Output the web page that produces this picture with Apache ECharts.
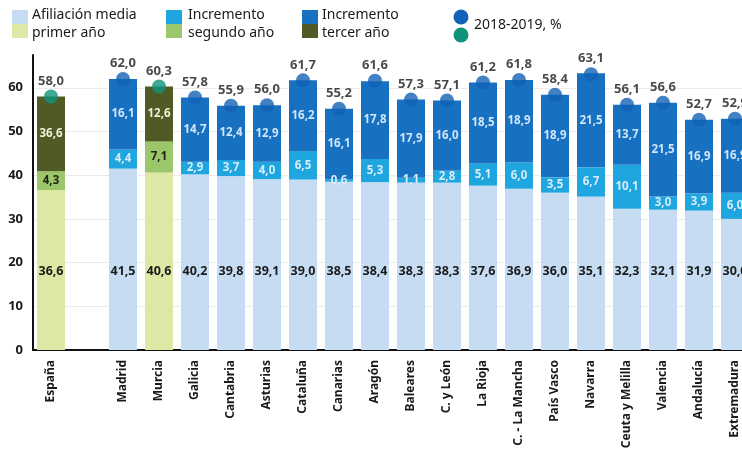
<!DOCTYPE html>
<html><head><meta charset="utf-8">
<script src="https://cdn.jsdelivr.net/npm/echarts@6/dist/echarts.min.js"></script>
<style>html,body{margin:0;padding:0;background:#fff;overflow:hidden;width:742px;height:452px}#c{width:770px;height:452px}</style>
</head><body><div id="c"></div><script>
const categories = ['España','','Madrid','Murcia','Galicia','Cantabria','Asturias','Cataluña','Canarias','Aragón','Baleares','C. y León','La Rioja','C. - La Mancha','País Vasco','Navarra','Ceuta y Melilla','Valencia','Andalucía','Extremadura'];
const afiliacion = [36.6,null,41.5,40.6,40.2,39.8,39.1,39.0,38.5,38.4,38.3,38.3,37.6,36.9,36.0,35.1,32.3,32.1,31.9,30.0];
const incremento2 = [4.3,null,4.4,7.1,2.9,3.7,4.0,6.5,0.6,5.3,1.1,2.8,5.1,6.0,3.5,6.7,10.1,3.0,3.9,6.0];
const incremento3 = [17.1,null,16.1,12.6,14.7,12.4,12.9,16.2,16.1,17.8,17.9,16.0,18.5,18.9,18.9,21.5,13.7,21.5,16.9,16.9];
const incremento3Labels = ['36,6','','16,1','12,6','14,7','12,4','12,9','16,2','16,1','17,8','17,9','16,0','18,5','18,9','18,9','21,5','13,7','21,5','16,9','16,9'];
const totals = [58.0,null,62.0,60.3,57.8,55.9,56.0,61.7,55.2,61.6,57.3,57.1,61.2,61.8,58.4,63.1,56.1,56.6,52.7,52.9];
const highlighted = ['España','Murcia'];
const yTicks = [0,10,20,30,40,50,60];

const FONT = 'Noto Sans';
const C = {
  base:'#c6dcf2', second:'#1fa6de', third:'#1770c0', dot:'#1262b5',
  gBase:'#dfe7a4', gSecond:'#9cc66a', gThird:'#4f5a24', gDot:'#10937a'
};
const fmt = v => v.toFixed(1).replace('.', ',');
const isG = i => highlighted.includes(categories[i]);

function items(arr, key, gKey, labelFn){
  return arr.map((v,i)=>{
    if (v==null) return {value:'-'};
    const g = isG(i);
    const o = {value:v, itemStyle:{color: g ? C[gKey] : C[key]}};
    if (labelFn) o.label = labelFn(i,g,v);
    return o;
  });
}

const baseData = items(afiliacion,'base','gBase');
const secondData = items(incremento2,'second','gSecond',(i,g)=>({color: g ? '#1e2410' : '#d6ecfb'}));
const thirdData = items(incremento3,'third','gThird',(i,g)=>({color: g ? '#eef0d8' : '#cfe6fa', formatter: incremento3Labels[i]}));
const dotData = totals.map((v,i)=> v==null ? {value:'-'} : {value:v, itemStyle:{color: isG(i)?C.gDot:C.dot}});

const chart = echarts.init(document.getElementById('c'), null, {renderer:'canvas'});
const legendText = (x,y,t)=>({type:'text', left:x, top:y, style:{text:t, font:'14px "'+FONT+'"', fill:'#1a1a1a'}});
const legendRect = (x,y,c)=>({type:'rect', shape:{x:x,y:y,width:16,height:14}, style:{fill:c}});
chart.setOption({
  animation:false,
  textStyle:{fontFamily:FONT},
  grid:{left:33, top:55, width:720, bottom:102, containLabel:false},
  xAxis:{type:'category', data:categories,
    axisLine:{lineStyle:{color:'#111', width:2}}, axisTick:{show:false},
    axisLabel:{rotate:90, interval:0, margin:10, fontSize:12, fontWeight:'bold', color:'#1a1a1a', fontFamily:FONT}},
  yAxis:{type:'value', min:0, max:67.5, interval:10,
    axisLine:{show:true, lineStyle:{color:'#111', width:2}}, axisTick:{show:false},
    axisLabel:{margin:10, fontSize:13, fontWeight:'bold', color:'#1a1a1a', fontFamily:FONT,
      formatter: v => yTicks.includes(v) ? String(v) : ''},
    splitLine:{show:true, showMaxLine:false, lineStyle:{color:'#ececec', width:1}}},
  series:[
    {type:'bar', stack:'a', barWidth:28, data:baseData,
      label:{show:true, position:'insideBottom', distance:72, fontSize:12.5, fontWeight:'bold', color:'#1a1a1a', formatter:p=>fmt(p.value)}},
    {type:'bar', stack:'a', barWidth:28, data:secondData,
      label:{show:true, position:'inside', fontSize:11.5, fontWeight:'bold', formatter:p=>fmt(p.value)}},
    {type:'bar', stack:'a', barWidth:28, data:thirdData,
      label:{show:true, position:'inside', fontSize:11.5, fontWeight:'bold'}},
    {type:'scatter', data:dotData, symbolSize:14, z:5,
      label:{show:true, position:'top', distance:2, fontSize:13, fontWeight:'bold', color:'#1a1a1a', formatter:p=>fmt(p.value)}}
  ],
  graphic:[
    legendRect(12,10,C.base), legendRect(12,24,C.gBase),
    legendText(32,8,'Afiliación media'), legendText(32,26,'primer año'),
    legendRect(166,10,C.second), legendRect(166,24,C.gSecond),
    legendText(188,8,'Incremento'), legendText(188,26,'segundo año'),
    legendRect(302,10,C.third), legendRect(302,24,C.gThird),
    legendText(322,8,'Incremento'), legendText(322,26,'tercer año'),
    {type:'circle', shape:{cx:461,cy:17,r:7.5}, style:{fill:C.dot}},
    {type:'circle', shape:{cx:461,cy:35,r:7.5}, style:{fill:C.gDot}},
    legendText(474,18,'2018-2019, %')
  ]
});
</script></body></html>
